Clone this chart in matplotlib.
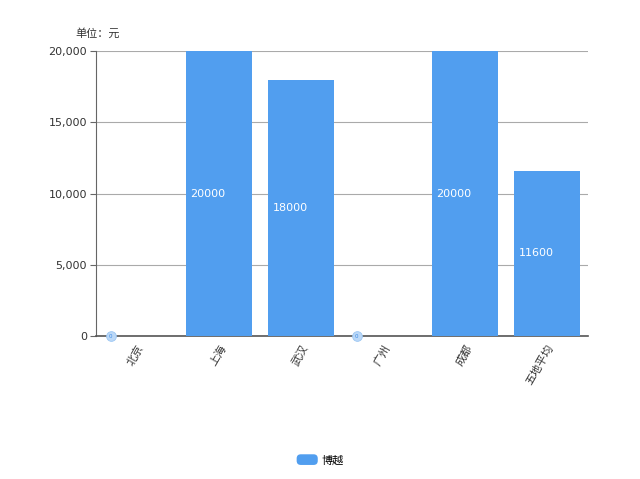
import matplotlib.pyplot as plt
from matplotlib.ticker import FuncFormatter
from matplotlib.patches import FancyBboxPatch
from matplotlib.legend_handler import HandlerPatch

plt.rcParams['font.family'] = ['DejaVu Sans', 'Noto Sans CJK SC']

# 数据
cities = ['北京', '上海', '武汉', '广州', '成都', '五地平均']
prices = [0, 20000, 18000, 0, 20000, 11600]
series_name = '博越'
unit_label = '单位：元'
yticks = [0, 5000, 10000, 15000, 20000]

bar_color = '#519EEF'
cjk = ['Noto Sans CJK SC', 'DejaVu Sans']

fig = plt.figure(figsize=(6.4, 4.79), dpi=100)
ax = fig.add_axes([0.15, 0.2985, 0.769, 0.595])

x = range(len(cities))
bars = ax.bar(x, prices, width=0.8, color=bar_color, label=series_name, zorder=3)

ax.set_xlim(-0.5, len(cities) - 0.5)
ax.set_ylim(0, 20000)
ax.set_yticks(yticks)
ax.yaxis.set_major_formatter(FuncFormatter(lambda v, p: f'{int(v):,}'))
ax.grid(axis='y', color='#aaaaaa', linewidth=0.8, zorder=0)

for s in ['top', 'right']:
    ax.spines[s].set_visible(False)
ax.spines['left'].set_color('#666666')
ax.spines['bottom'].set_color('#555555')
ax.spines['bottom'].set_linewidth(1.2)

ax.tick_params(axis='y', labelsize=8, colors='#333333', length=4.5, color='#666666', pad=2)
ax.tick_params(axis='x', length=0, pad=5)
ax.set_xticks(list(x))
ax.set_xticklabels(cities, rotation=60, ha='right', rotation_mode='anchor',
                   fontsize=8, color='#333333', family=cjk)

# 柱内标签
for b, v in zip(bars, prices):
    if v > 0:
        ax.text(b.get_x() + 0.05, v / 2, str(v), ha='left', va='center',
                color='white', fontsize=8, zorder=4)
    else:
        bx = b.get_x() + 0.08
        ax.plot([bx], [0], marker='o', markersize=7, mfc='#BBD8F7',
                mec='#9CC6F3', mew=0.6, zorder=4, clip_on=False)
        ax.text(bx, 0, '0', ha='center', va='center',
                color='#3F8DE6', fontsize=4, zorder=5)

fig.text(0.117, 0.93, unit_label, fontsize=8, color='#333333', ha='left',
         va='center', family=cjk)


class RoundHandler(HandlerPatch):
    def create_artists(self, legend, orig_handle, xdescent, ydescent, width,
                       height, fontsize, trans):
        p = FancyBboxPatch((-xdescent, -ydescent), width, height,
                           boxstyle='round,pad=0,rounding_size=3',
                           fc=bar_color, ec='none', transform=trans)
        return [p]


fig.legend(handles=[bars], labels=[series_name], loc='center',
           bbox_to_anchor=(0.5, 0.04), frameon=False,
           prop={'family': cjk, 'size': 8},
           handler_map={type(bars): RoundHandler()},
           handlelength=1.9, handleheight=1.1, handletextpad=0.3)

fig.savefig('out.png', dpi=100, facecolor='white')
